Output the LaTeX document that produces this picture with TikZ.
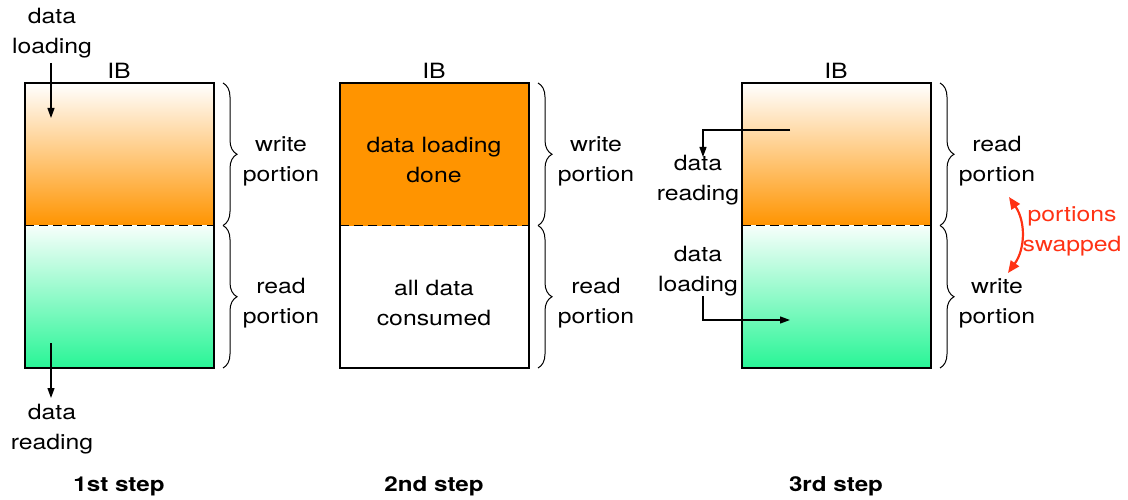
\documentclass[tikz,border=0pt]{standalone}
\usepackage{fontspec}
\setmainfont{TeX Gyre Heros}[FakeStretch=1.18]
\usetikzlibrary{arrows.meta,decorations.pathreplacing,calc}
\definecolor{ibOrange}{RGB}{255,148,0}
\definecolor{ibGreen}{RGB}{40,245,150}
\definecolor{swapRed}{RGB}{255,50,20}
\begin{document}
\begin{tikzpicture}[x=1pt,y=1pt,
  lbl/.style={font=\fontsize{21}{30}\selectfont, align=center, inner sep=0pt},
  steplbl/.style={font=\fontsize{20.5}{24}\selectfont\bfseries, inner sep=0pt},
  half/.style={minimum width=189pt, minimum height=142.5pt, inner sep=0pt, outer sep=0pt, anchor=north west},
  loadhalf/.style={half, top color=white, bottom color=ibOrange},
  readhalf/.style={half, top color=ibGreen!4, bottom color=ibGreen},
  frame/.style={line width=1.2pt},
  split/.style={line width=1.6pt, dash pattern=on 9pt off 5pt},
  arr/.style={-{Triangle[length=10pt,width=7pt]}, line width=1.2pt},
  swap/.style={{Triangle[length=12pt,width=10pt]}-{Triangle[length=12pt,width=10pt]}, line width=2.2pt, draw=swapRed},
  bracket/.style={decorate, decoration={brace, amplitude=14pt}, line width=1pt}
]
\useasboundingbox (0,0) rectangle (1128,-500);

% ---------- 1st step ----------
\node[loadhalf] (w1) at (25,-83) {};
\node[readhalf] (r1) at (25,-225.5) {};
\draw[frame] (w1.north west) rectangle (r1.south east);
\draw[split] (w1.south west) -- (w1.south east);
\node[lbl] (ib1) at (119,-71) {IB};
\draw[bracket] (223,-83) -- (223,-225.5);
\draw[bracket] (223,-225.5) -- (223,-368);
\node[lbl] (wp1) at (281,-161) {write\\portion};
\node[lbl] (rp1) at (281,-303) {read\\portion};
\node[lbl] (dl1) at (52,-33) {data\\loading};
\coordinate (dl1s) at (51,-63);
\coordinate (dl1e) at (51,-118);
\draw[arr] (dl1s) -- (dl1e);
\coordinate (dr1s) at (51,-343);
\coordinate (dr1e) at (51,-398);
\draw[arr] (dr1s) -- (dr1e);
\node[lbl] (dr1) at (52,-429) {data\\reading};
\node[steplbl] (s1) at (119,-486) {1st step};

% ---------- 2nd step ----------
\node[half, fill=ibOrange] (w2) at (340,-83) {};
\node[half, fill=white] (r2) at (340,-225.5) {};
\draw[frame] (w2.north west) rectangle (r2.south east);
\draw[split] (w2.south west) -- (w2.south east);
\node[lbl] (t2a) at (434,-160) {data loading\\done};
\node[lbl] (t2b) at (434,-303) {all data\\consumed};
\node[lbl] (ib2) at (434,-71) {IB};
\draw[bracket] (538,-83) -- (538,-225.5);
\draw[bracket] (538,-225.5) -- (538,-368);
\node[lbl] (wp2) at (596,-161) {write\\portion};
\node[lbl] (rp2) at (596,-303) {read\\portion};
\node[steplbl] (s2) at (434,-486) {2nd step};

% ---------- 3rd step ----------
\node[loadhalf] (w3) at (742,-83) {};
\node[readhalf] (r3) at (742,-225.5) {};
\draw[frame] (w3.north west) rectangle (r3.south east);
\draw[split] (w3.south west) -- (w3.south east);
\node[lbl] (ib3) at (836,-71) {IB};
\draw[bracket] (940,-83) -- (940,-225.5);
\draw[bracket] (940,-225.5) -- (940,-368);
\node[lbl] (rp3) at (997,-161) {read\\portion};
\node[lbl] (wp3) at (997,-303) {write\\portion};
\node[lbl] (dr3) at (698,-180) {data\\reading};
\node[lbl] (dl3) at (698,-271) {data\\loading};
\coordinate (dr3s) at (790,-130);
\coordinate (dr3e) at (703,-157);
\draw[arr] (dr3s) -| (dr3e);
\coordinate (dl3s) at (703,-296);
\coordinate (dl3e) at (790,-320);
\draw[arr] (dl3s) |- (dl3e);
\coordinate (sw1) at (1009,-197);
\coordinate (sw2) at (1008,-273);
\draw[swap] (sw1) to[bend left=35] (sw2);
\node[lbl, text=swapRed] (swp) at (1072,-231) {portions\\swapped};
\node[steplbl] (s3) at (836,-486) {3rd step};
\end{tikzpicture}
\end{document}
